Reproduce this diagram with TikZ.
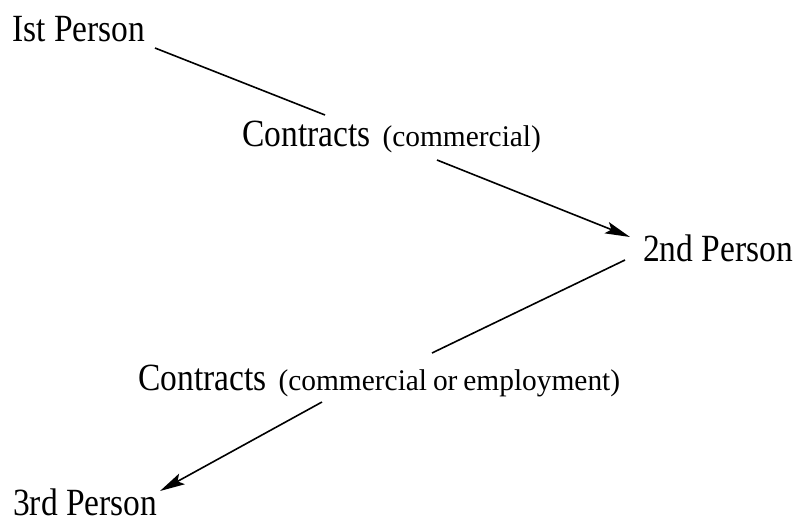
\documentclass[tikz,border=0pt]{standalone}
\usepackage{fontspec}
\setmainfont{Liberation Serif}
\newfontfamily\bigf[FakeStretch=0.87]{Liberation Serif}
\newfontfamily\smallf[FakeStretch=0.98,WordSpace=0.8]{Liberation Serif}
\usetikzlibrary{arrows.meta}
\newcommand{\smtext}[1]{{\smallf\fontsize{30}{32}\selectfont #1}}
\begin{document}
\begin{tikzpicture}[x=1pt,y=-1pt,
  lbl/.style={inner sep=0pt,anchor=base west,font=\bigf\fontsize{38.5}{40}\selectfont},
  link/.style={line width=1.6pt,black},
  arr/.style={link,-{Stealth[length=25pt,width=12pt,inset=5pt]}}]
\useasboundingbox (0,0) rectangle (798,531);
\node[lbl] (p1) at (12,41) {Ist Person};
\node[lbl] (c1) at (242,146) {Contracts\hspace{12pt}\smtext{(commercial)}};
\node[lbl] (p2) at (643,261) {2nd Person};
\node[lbl] (c2) at (138,390) {Contracts\hspace{12pt}\smtext{(commercial or employment)}};
\node[lbl] (p3) at (13,515) {3rd Person};
\draw[link] ([shift={(143,7)}]p1.base west) -- ([shift={(83,-31)}]c1.base west);
\draw[arr] ([shift={(195,14)}]c1.base west) -- ([shift={(-13,-24)}]p2.base west);
\draw[link] ([shift={(-18,-1)}]p2.base west) -- ([shift={(294,-37)}]c2.base west);
\draw[arr] ([shift={(184,12)}]c2.base west) -- ([shift={(147,-24)}]p3.base west);
\end{tikzpicture}
\end{document}
